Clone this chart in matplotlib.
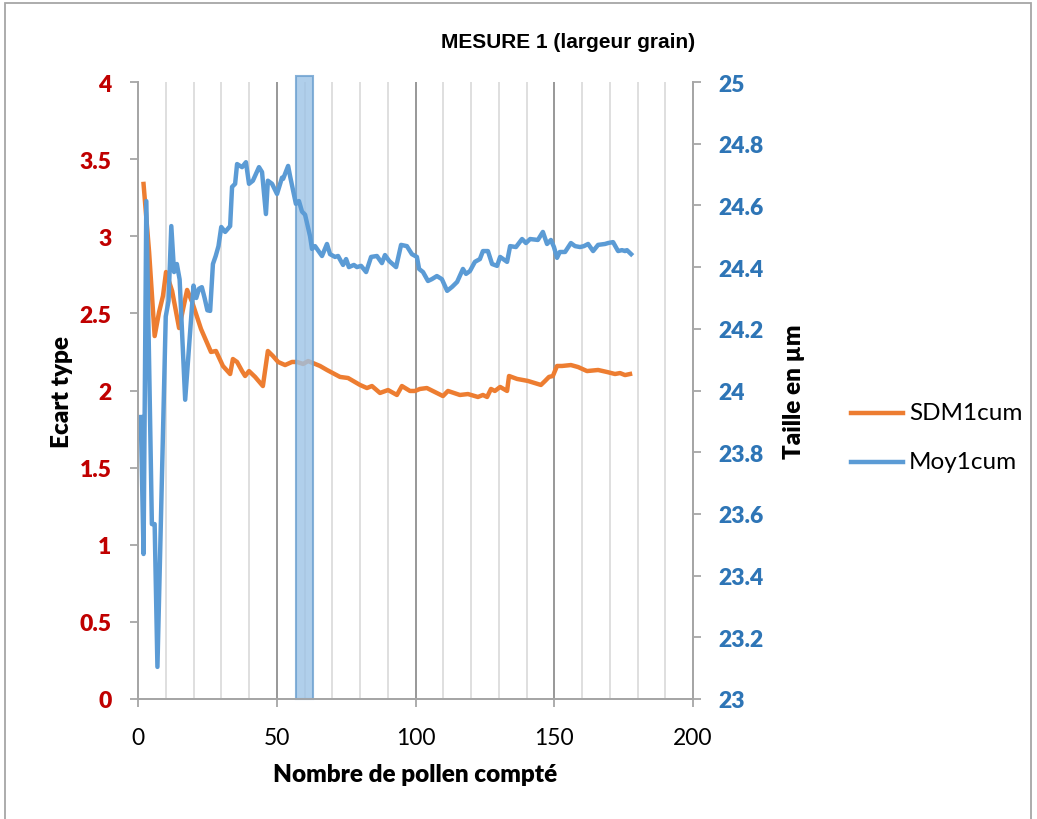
import matplotlib
matplotlib.use("Agg")
import matplotlib.pyplot as plt
from matplotlib.patches import Rectangle
from matplotlib.ticker import MultipleLocator, FuncFormatter

# cumulative standard deviation (left axis)
sd_x = [2, 4, 6, 7.6, 9, 10.1, 12.3, 14.8, 17.7, 19.5, 22.7, 26.3, 28.1, 30.6,
        33.2, 34.2, 35.7, 37.5, 38.6, 40, 42.2, 45, 46.8, 48.6, 50.5, 53, 55.5,
        57.3, 59.5, 61.3, 65.6, 68.1, 72.8, 75.7, 80, 82.5, 84.3, 87.2, 90.1,
        93.3, 95.1, 98, 99.8, 101.6, 104.1, 109.9, 111.7, 116, 118.9, 122.5,
        124.3, 125.8, 127.2, 128.6, 130.5, 133, 133.7, 136.6, 140.5, 145.2,
        146.7, 148.1, 149.5, 151, 152.8, 156, 158.6, 161.8, 165.8, 169, 171.9,
        173.7, 175.5, 177.3]
sd_y = [3.339, 2.898, 2.353, 2.509, 2.613, 2.768, 2.645, 2.405, 2.652, 2.574,
        2.399, 2.25, 2.256, 2.159, 2.107, 2.204, 2.185, 2.126, 2.094, 2.126,
        2.088, 2.029, 2.256, 2.224, 2.185, 2.165, 2.185, 2.185, 2.172, 2.191,
        2.159, 2.133, 2.088, 2.081, 2.036, 2.016, 2.029, 1.984, 2.003, 1.971,
        2.029, 1.997, 1.997, 2.01, 2.016, 1.964, 1.997, 1.971, 1.977, 1.958,
        1.971, 1.958, 2.01, 1.997, 2.023, 1.997, 2.094, 2.075, 2.062, 2.036,
        2.062, 2.088, 2.094, 2.159, 2.159, 2.165, 2.152, 2.126, 2.133, 2.12,
        2.107, 2.113, 2.10, 2.107]

# cumulative mean (right axis, µm)
moy_x = [1, 2, 3, 5, 6, 7, 10, 11, 12, 13, 14, 15, 17, 20, 21, 22, 23, 24, 25,
         26, 27, 28, 29, 30, 31.4, 33.2, 33.9, 35, 35.7, 37.5, 38.9, 40, 41.4,
         43.6, 44.7, 46.1, 46.8, 48.3, 50.1, 51.9, 52.3, 54.1, 54.8, 56.9, 58,
         59.1, 60.2, 62, 62.7, 63.8, 66.3, 68.1, 69.2, 71, 72.1, 73.9, 75, 76,
         77.8, 78.9, 80.4, 82.2, 84, 86.1, 87.9, 89, 90.5, 93, 94.8, 96.9, 98.7,
         100.5, 101.3, 102.7, 104.5, 105.9, 107.7, 109.5, 111.4, 113.2, 115,
         117.1, 118.2, 119.6, 121.4, 123.2, 124.3, 126.1, 127.6, 129.4, 130.5,
         133, 134.1, 136.2, 138.4, 139.8, 141.3, 144.1, 145.9, 147.4, 148.8,
         149.9, 151, 152, 153.9, 156, 157.5, 159.3, 160.7, 162.2, 164, 165.8,
         168.3, 169.4, 171.2, 173, 174.4, 175.5, 176.2, 177.7]
moy_y = [23.914, 23.47, 24.614, 23.567, 23.567, 23.104, 24.24, 24.29, 24.533,
         24.384, 24.41, 24.36, 23.97, 24.34, 24.30, 24.33, 24.335, 24.30, 24.26,
         24.258, 24.41, 24.436, 24.468, 24.53, 24.514, 24.533, 24.66, 24.67,
         24.734, 24.724, 24.74, 24.67, 24.68, 24.724, 24.708, 24.572, 24.68,
         24.67, 24.637, 24.69, 24.686, 24.728, 24.695, 24.605, 24.614, 24.58,
         24.57, 24.50, 24.459, 24.468, 24.436, 24.475, 24.442, 24.433, 24.436,
         24.407, 24.426, 24.40, 24.407, 24.40, 24.404, 24.384, 24.433, 24.436,
         24.413, 24.439, 24.42, 24.40, 24.472, 24.468, 24.442, 24.433, 24.394,
         24.384, 24.355, 24.361, 24.371, 24.361, 24.323, 24.336, 24.352, 24.394,
         24.378, 24.387, 24.417, 24.426, 24.452, 24.452, 24.41, 24.404, 24.433,
         24.417, 24.468, 24.465, 24.491, 24.478, 24.491, 24.488, 24.514, 24.475,
         24.488, 24.465, 24.43, 24.449, 24.449, 24.478, 24.468, 24.465, 24.468,
         24.475, 24.452, 24.472, 24.475, 24.478, 24.481, 24.452, 24.455, 24.452,
         24.455, 24.442]

highlight = (57, 63)

ORANGE = "#ED7D31"
BLUE = "#5B9BD5"
RED = "#C00000"
BLUE_TXT = "#2E75B6"
GRID = "#D9D9D9"
GRID_MAJ = "#868686"
SPINE = "#A6A6A6"

plt.rcParams["font.family"] = ["Lato", "DejaVu Sans"]

fig = plt.figure(figsize=(10.37, 8.2), dpi=100, facecolor="white")
ax = fig.add_axes([138 / 1037, 120 / 820, 555 / 1037, 617 / 820])
ax2 = ax.twinx()

# vertical grid
for gx in range(10, 200, 10):
    ax.axvline(gx, color=GRID_MAJ if gx % 50 == 0 else GRID, lw=1.2, zorder=0)

ax.plot(sd_x, sd_y, color=ORANGE, lw=3.2, solid_joinstyle="round", zorder=2)
ax.add_patch(Rectangle((highlight[0], 0), highlight[1] - highlight[0], 1.01,
                       transform=ax.get_xaxis_transform(), facecolor="#9DC3E6",
                       edgecolor="#6A9FCF", lw=1.5, alpha=0.8, clip_on=False, zorder=3))
ax2.plot(moy_x, moy_y, color=BLUE, lw=3.2, solid_joinstyle="round", zorder=2)

ax.set_xlim(0, 200)
ax.set_ylim(0, 4)
ax2.set_ylim(23, 25)
ax.xaxis.set_major_locator(MultipleLocator(50))
ax.yaxis.set_major_locator(MultipleLocator(0.5))
ax2.yaxis.set_major_locator(MultipleLocator(0.2))
ax.yaxis.set_major_formatter(FuncFormatter(lambda v, p: f"{v:g}"))
ax2.yaxis.set_major_formatter(FuncFormatter(lambda v, p: f"{v:g}"))

for a in (ax, ax2):
    a.set_facecolor("none")
    a.spines["top"].set_visible(False)
    for s in ("left", "right", "bottom"):
        a.spines[s].set_color(SPINE)
        a.spines[s].set_linewidth(1.3)
ax.patch.set_visible(False)

ax.tick_params(axis="x", direction="out", length=6, width=1.3, color=SPINE,
               labelsize=16.5, labelcolor="black", pad=14)
ax.tick_params(axis="y", direction="out", length=6, width=1.3, color=SPINE,
               labelsize=16.5, labelcolor=RED, pad=13)
ax2.tick_params(axis="y", direction="out", length=6, width=1.3, color=SPINE,
                labelsize=16.5, labelcolor=BLUE_TXT, pad=12)
for lab in ax.get_yticklabels() + ax2.get_yticklabels():
    lab.set_fontweight("heavy")

ax.set_ylabel("Ecart type", fontsize=17.5, fontweight="heavy", labelpad=5)
ax2.set_ylabel("Taille en µm", fontsize=17.5, fontweight="heavy", labelpad=14)
ax.set_xlabel("Nombre de pollen compté", fontsize=17.5, fontweight="heavy", labelpad=11)

fig.text(568 / 1037, 1 - 42 / 820, "MESURE 1 (largeur grain)", ha="center", va="center",
         fontsize=15, fontweight="bold", family=["Liberation Sans", "DejaVu Sans"])

# legend
for i, (lab, col) in enumerate([("SDM1cum", ORANGE), ("Moy1cum", BLUE)]):
    yy = 1 - (414 + 49 * i) / 820
    fig.lines.append(plt.Line2D([851 / 1037, 903 / 1037], [yy, yy], color=col, lw=3.2,
                                transform=fig.transFigure))
    fig.text(909 / 1037, yy, lab, ha="left", va="center", fontsize=17.5)

# chart frame
fig.patches.append(Rectangle((5 / 1037, -0.01), 1026 / 1037, 1.01 - 4 / 820,
                             transform=fig.transFigure, fill=False,
                             edgecolor="#A6A6A6", lw=1.3))

fig.savefig("out.png", dpi=100, facecolor="white")
